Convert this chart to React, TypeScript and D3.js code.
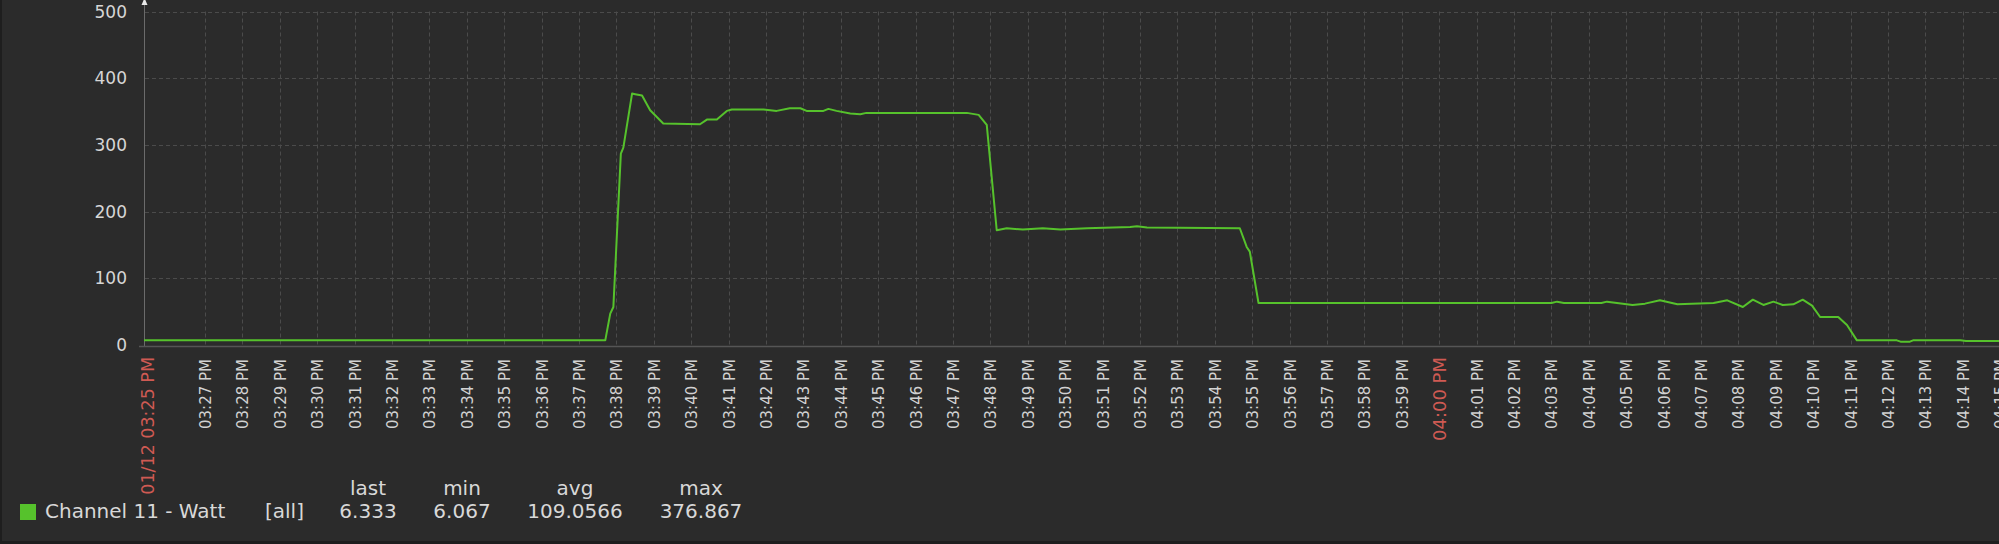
import { useLayoutEffect } from "react";
import * as d3 from "d3";

// time window shown on the graph (01/12, afternoon)
const windowStart = "15:25:22";
const windowEnd = "16:15:30";

// sampled values of Channel 11 - Watt
const sampleTimes = [
  "15:25:22", "15:37:42", "15:37:50", "15:37:55", "15:38:07", "15:38:11", "15:38:25", "15:38:30",
  "15:38:41", "15:38:54", "15:39:15", "15:40:14", "15:40:25", "15:40:41", "15:40:57", "15:41:05",
  "15:41:56", "15:42:17", "15:42:38", "15:42:55", "15:43:05", "15:43:32", "15:43:40", "15:43:53",
  "15:44:15", "15:44:31", "15:44:41", "15:47:22", "15:47:41", "15:47:54", "15:48:10", "15:48:26",
  "15:48:52", "15:49:24", "15:49:52", "15:50:35", "15:51:44", "15:51:55", "15:52:11", "15:54:40",
  "15:54:51", "15:54:56", "15:55:10", "16:03:00", "16:03:09", "16:03:20", "16:04:20", "16:04:29",
  "16:04:45", "16:05:10", "16:05:30", "16:05:54", "16:06:22", "16:07:20", "16:07:42", "16:08:07",
  "16:08:23", "16:08:40", "16:08:56", "16:09:11", "16:09:28", "16:09:43", "16:09:58", "16:10:11",
  "16:10:40", "16:10:54", "16:11:10", "16:12:14", "16:12:20", "16:12:35", "16:12:40", "16:13:56",
  "16:14:05", "16:15:30",
];
const sampleValues = [
  7, 7, 47, 57, 287, 296, 377, 376,
  374, 352, 332, 331, 338, 338, 351, 353,
  353, 351, 355, 355, 351, 351, 354, 351,
  347, 346, 348, 348, 345, 330, 172, 175,
  173, 175, 173, 175, 177, 178, 176, 175,
  147, 140, 63, 63, 65, 63, 63, 65,
  63, 60, 62, 67, 61, 63, 67, 57,
  68, 60, 65, 60, 61, 68, 59, 42,
  42, 30, 7, 7, 5, 5, 7, 7,
  6, 6,
];

const yTicks = [0, 100, 200, 300, 400, 500];

const legendName = "Channel 11 - Watt";
const legendFunc = "[all]";
const legendHeaders = ["last", "min", "avg", "max"];
const legendValues = ["6.333", "6.067", "109.0566", "376.867"];

const W = 1999;
const H = 544;
const FONT = "'DejaVu Sans', sans-serif";
const GREEN = "#56c22c";
const RED = "#cf5a53";

const toDate = (s: string) => {
  const [h, m, sec] = s.split(":").map(Number);
  return new Date(2024, 0, 12, h, m, sec);
};

export default function App() {
  useLayoutEffect(() => {
    document.body.style.margin = "0";
    document.body.style.background = "#1e1e1e";
  }, []);

  const x = d3
    .scaleTime()
    .domain([toDate(windowStart), toDate(windowEnd)])
    .range([144, 2019]);
  const y = d3.scaleLinear().domain([0, 500]).range([345, 11.5]);

  const data = sampleTimes.map((t, i) => ({ t: toDate(t), v: sampleValues[i] }));
  const line = d3
    .line<{ t: Date; v: number }>()
    .x((d) => x(d.t))
    .y((d) => y(d.v));

  const minuteTicks = d3.timeMinute.range(toDate("15:27:00"), toDate("16:16:00"));
  const fmt = d3.timeFormat("%I:%M %p");
  const x0 = x.range()[0];

  return (
    <svg width={W} height={H} style={{ display: "block" }} fontFamily={FONT}>
      <rect x={0} y={0} width={W} height={H} fill="#1e1e1e" />
      <rect x={2} y={0} width={W - 2} height={541} fill="#2b2b2b" />

      {/* grid */}
      <g stroke="#4b4b4b" strokeWidth={1} strokeDasharray="4,3">
        {yTicks
          .filter((v) => v > 0)
          .map((v) => (
            <line key={v} x1={x0 + 1} x2={W} y1={Math.round(y(v)) + 0.5} y2={Math.round(y(v)) + 0.5} />
          ))}
        {minuteTicks.map((t, i) => (
          <line
            key={i}
            x1={Math.round(x(t)) + 0.5}
            x2={Math.round(x(t)) + 0.5}
            y1={y(500)}
            y2={y(0)}
          />
        ))}
      </g>

      {/* axes */}
      <line x1={x0 + 0.5} x2={x0 + 0.5} y1={0} y2={y(0) + 2} stroke="#6b6b6b" />
      <line x1={x0 - 5} x2={W} y1={y(0) + 1.5} y2={y(0) + 1.5} stroke="#555555" strokeWidth={1.5} />
      <path d={`M${x0 - 2.5},5 L${x0 + 3.5},5 L${x0 + 0.5},-2 Z`} fill="#e8e8e8" />

      {/* y labels */}
      <g fill="#d6d6d6" fontSize={17} textAnchor="end">
        {yTicks.map((v) => (
          <text key={v} x={127} y={y(v)} dy="0.36em">
            {v}
          </text>
        ))}
      </g>

      {/* x labels */}
      <text
        transform={`translate(${x0 + 3.5},357) rotate(-90)`}
        textAnchor="end"
        dy="0.36em"
        fontSize={17.5}
        fill={RED}
      >
        {"01/12 " + fmt(toDate(windowStart))}
      </text>
      {minuteTicks.map((t, i) => {
        const hour = t.getMinutes() === 0;
        return (
          <text
            key={i}
            transform={`translate(${x(t) + 0.5},${hour ? 357 : 359}) rotate(-90)`}
            textAnchor="end"
            dy="0.36em"
            fontSize={hour ? 18 : 15}
            fill={hour ? RED : "#d2d2d2"}
          >
            {fmt(t)}
          </text>
        );
      })}

      {/* series */}
      <path d={line(data) ?? ""} fill="none" stroke={GREEN} strokeWidth={2} strokeLinejoin="round" />

      {/* legend */}
      <rect x={20} y={504} width={16} height={16} fill={GREEN} />
      <g fill="#d8d8d8" fontSize={20}>
        <text x={45} y={518}>
          {legendName}
        </text>
        <text x={265} y={518}>
          {legendFunc}
        </text>
        {legendHeaders.map((h, i) => (
          <text key={h} x={[368, 462, 575, 701][i]} y={495} textAnchor="middle">
            {h}
          </text>
        ))}
        {legendValues.map((v, i) => (
          <text key={i} x={[368, 462, 575, 701][i]} y={518} textAnchor="middle">
            {v}
          </text>
        ))}
      </g>
    </svg>
  );
}
